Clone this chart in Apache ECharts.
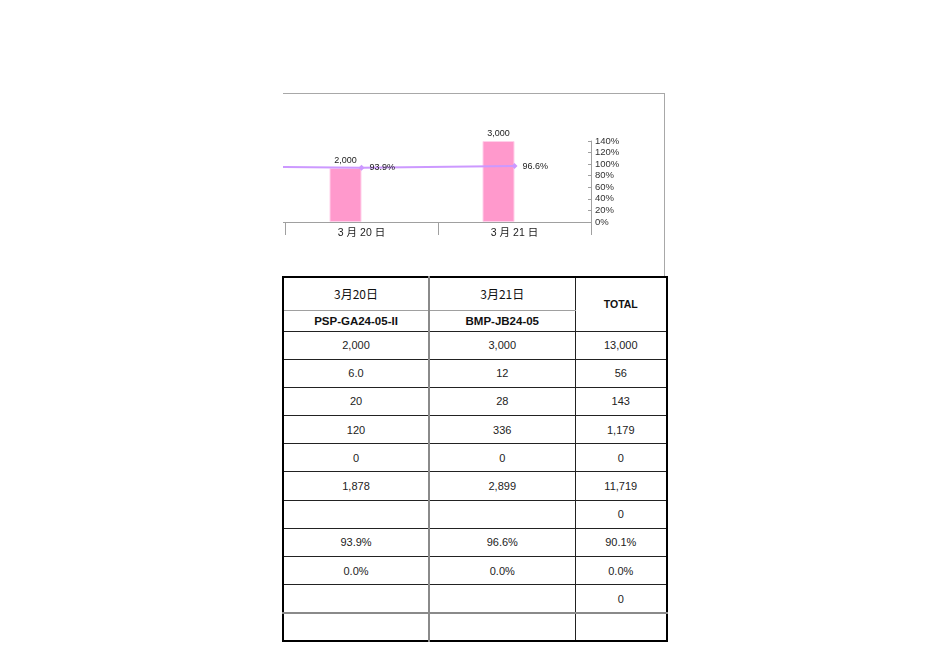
<!DOCTYPE html>
<html>
<head>
<meta charset="utf-8">
<script src="https://cdn.jsdelivr.net/npm/echarts@6/dist/echarts.min.js"></script>
<style>
  html, body { margin: 0; padding: 0; background: #fff; width: 950px; height: 672px; overflow: hidden; }
  #clip { position: absolute; left: 283px; top: 93px; width: 381px; height: 182px;
          border-top: 1px solid #a8a8a8; border-right: 1px solid #a8a8a8; overflow: hidden; }
  #chart { position: absolute; left: -183px; top: 1px; width: 565px; height: 181px; }
  table { position: absolute; left: 282px; top: 276px; width: 384px; border-collapse: collapse;
          table-layout: fixed; border: 2px solid #000; font-family: 'Liberation Sans', Arial, 'Noto Sans CJK JP', sans-serif;
          font-size: 11px; color: #222; }
  td { border: 1px solid #222; text-align: center; vertical-align: middle; padding: 0; box-sizing: border-box; }
  td.c1 { border-right: 2px solid #8a8a8a; }
  tr.h1 td.c1, tr.h1 td.c2 { border-bottom: 1px solid #a0a0a0; }
  tr.h1 td { height: 33px; font-family: 'Noto Sans CJK JP', sans-serif; font-size: 12px; color: #111; }
  tr.h1 td.total { font-family: 'Liberation Sans', Arial, sans-serif; font-size: 10.5px; font-weight: bold; }
  tr.h2 td { height: 21px; font-weight: bold; font-size: 11.5px; color: #111; }
  tr.d td { height: 28.2px; }
  tr.pre td { border-bottom: 2px solid #8a8a8a; }
</style>
</head>
<body>
<div id="clip"><div id="chart"></div></div>
<table id="tbl"></table>
<script>
// ---- chart data ----
const categories = ['', '3 月 20 日', '3 月 21 日'];   // first category is the cut-off previous day
const qtyValues = [null, 2000, 3000];
const qtyValues2 = [null, 0, 0];
const rateValues = [0.962, 0.939, 0.966];
const rateMin = 0, rateMax = 1.4, rateStep = 0.2;
const qtyMax = 3000;

// ---- table data ----
const headDates = ['3月20日', '3月21日'];
const headCodes = ['PSP-GA24-05-II', 'BMP-JB24-05'];
const totalHead = 'TOTAL';
const col1Values = ['2,000', '6.0', '20', '120', '0', '1,878', '', '93.9%', '0.0%', '', ''];
const col2Values = ['3,000', '12', '28', '336', '0', '2,899', '', '96.6%', '0.0%', '', ''];
const totalValues = ['13,000', '56', '143', '1,179', '0', '11,719', '0', '90.1%', '0.0%', '0', ''];

// build table
(function () {
  const t = document.getElementById('tbl');
  let html = '<colgroup><col style="width:146px"><col style="width:146px"><col style="width:92px"></colgroup>';
  html += '<tr class="h1"><td class="c1">' + headDates[0] + '</td><td class="c2">' + headDates[1] +
          '</td><td class="total" rowspan="2">' + totalHead + '</td></tr>';
  html += '<tr class="h2"><td class="c1">' + headCodes[0] + '</td><td class="c2">' + headCodes[1] + '</td></tr>';
  for (let i = 0; i < col1Values.length; i++) {
    const cls = 'd' + (i === col1Values.length - 2 ? ' pre' : '');
    html += '<tr class="' + cls + '"><td class="c1">' + col1Values[i] + '</td><td class="c2">' + col2Values[i] +
            '</td><td>' + totalValues[i] + '</td></tr>';
  }
  t.innerHTML = html;
})();

const chart = echarts.init(document.getElementById('chart'), null, { renderer: 'canvas' });
const axisGray = '#a0a0a0';
const fontFam = "'Liberation Sans', Arial, 'Noto Sans CJK JP', sans-serif";
chart.setOption({
  animation: false,
  backgroundColor: '#fff',
  grid: { left: 32, width: 459, top: 46, height: 81 },
  xAxis: {
    type: 'category',
    data: categories,
    boundaryGap: true,
    axisLine: { show: true, lineStyle: { color: axisGray, width: 1 } },
    axisTick: { show: true, length: 13, interval: 0, lineStyle: { color: axisGray } },
    axisLabel: { interval: 0, margin: 6, fontSize: 10.5, color: '#222', fontFamily: fontFam },
    splitLine: { show: false }
  },
  yAxis: [
    { type: 'value', min: 0, max: qtyMax, show: false },
    {
      type: 'value', position: 'right', min: rateMin, max: rateMax, interval: rateStep,
      axisLine: { show: true, lineStyle: { color: axisGray } },
      axisTick: { show: true, inside: true, length: 3, lineStyle: { color: axisGray } },
      axisLabel: { margin: 4, fontSize: 9.5, color: '#333', fontFamily: fontFam,
                   formatter: v => Math.round(v * 100) + '%' },
      splitLine: { show: false }
    }
  ],
  series: [
    {
      type: 'bar', yAxisIndex: 0, data: qtyValues, barWidth: 32, barGap: '0%',
      itemStyle: { color: '#ff99cc', borderColor: '#ffd0ea', borderWidth: 1 },
      label: { show: true, position: 'top', distance: 3, fontSize: 9, color: '#222', fontFamily: fontFam,
               formatter: p => p.value == null ? '' : Number(p.value).toLocaleString('en-US') }
    },
    {
      type: 'bar', yAxisIndex: 0, data: qtyValues2, barWidth: 32, barGap: '0%',
      itemStyle: { color: '#993366' }, label: { show: false }
    },
    {
      type: 'line', yAxisIndex: 1,
      data: rateValues.map((v, i) => i === 0 ? { value: v, label: { show: false } } : v),
      symbol: 'diamond', symbolSize: 6, showSymbol: true,
      lineStyle: { color: '#cc99ff', width: 2 },
      itemStyle: { color: '#cc99ff' },
      label: { show: true, position: 'right', distance: 5, fontSize: 9, color: '#222', fontFamily: fontFam,
               formatter: p => (p.value * 100).toFixed(1) + '%' },
      z: 5
    }
  ]
});
</script>
</body>
</html>
